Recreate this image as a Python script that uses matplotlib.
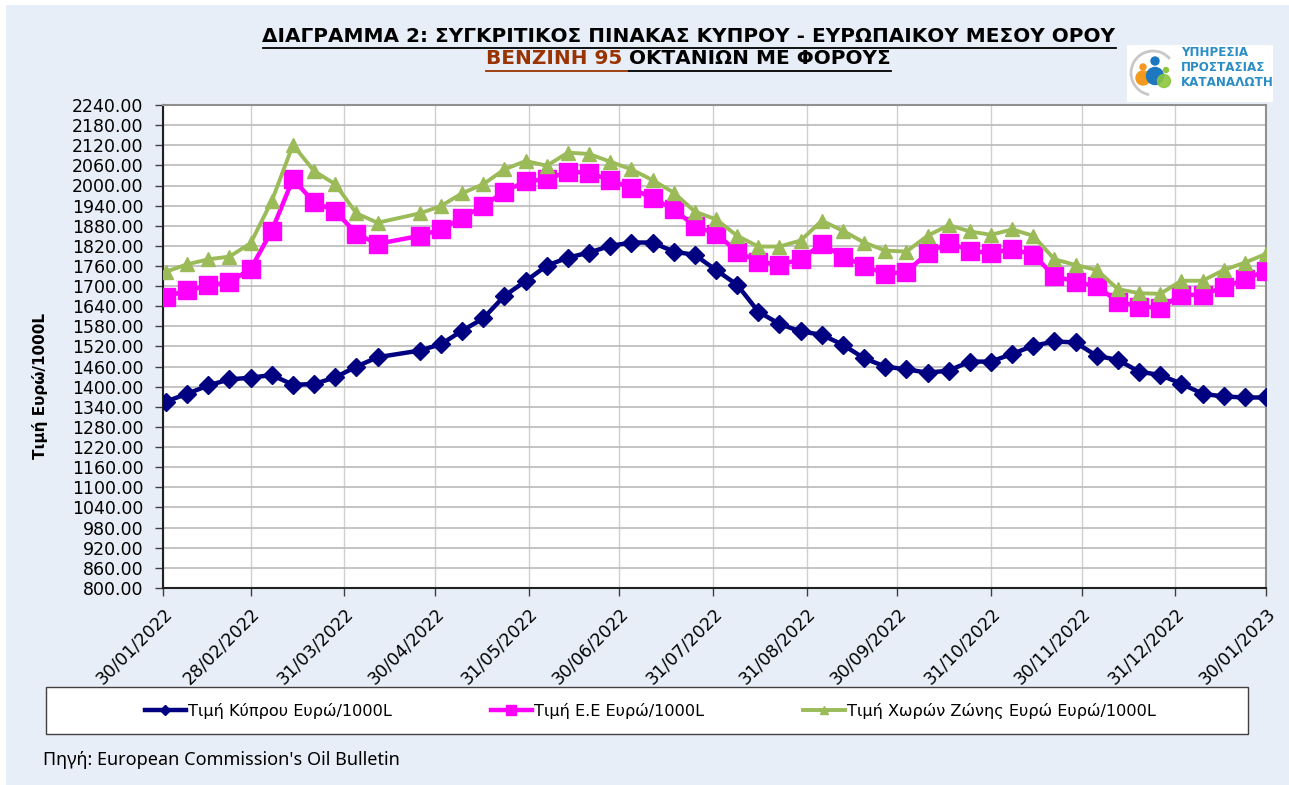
import matplotlib
matplotlib.use('Agg')
import matplotlib.pyplot as plt
from matplotlib.patches import Rectangle, Circle, Arc
from matplotlib.lines import Line2D
from datetime import datetime

# Εβδομαδιαίες τιμές (Oil Bulletin), Ευρώ/1000L
dates = ['31/01/2022', '07/02/2022', '14/02/2022', '21/02/2022', '28/02/2022',
         '07/03/2022', '14/03/2022', '21/03/2022', '28/03/2022', '04/04/2022',
         '11/04/2022', '25/04/2022', '02/05/2022', '09/05/2022', '16/05/2022',
         '23/05/2022', '30/05/2022', '06/06/2022', '13/06/2022', '20/06/2022',
         '27/06/2022', '04/07/2022', '11/07/2022', '18/07/2022', '25/07/2022',
         '01/08/2022', '08/08/2022', '15/08/2022', '22/08/2022', '29/08/2022',
         '05/09/2022', '12/09/2022', '19/09/2022', '26/09/2022', '03/10/2022',
         '10/10/2022', '17/10/2022', '24/10/2022', '31/10/2022', '07/11/2022',
         '14/11/2022', '21/11/2022', '28/11/2022', '05/12/2022', '12/12/2022',
         '19/12/2022', '26/12/2022', '02/01/2023', '09/01/2023', '16/01/2023',
         '23/01/2023', '30/01/2023']

cyprus = [1356, 1379, 1404, 1422, 1427, 1435, 1406, 1408, 1428, 1460,
          1488, 1508, 1527, 1567, 1604, 1671, 1715, 1761, 1785, 1800,
          1820, 1830, 1830, 1803, 1793, 1748, 1704, 1624, 1587, 1565,
          1555, 1525, 1485, 1460, 1452, 1442, 1448, 1475, 1475, 1498,
          1522, 1535, 1532, 1492, 1480, 1445, 1435, 1409, 1379, 1371,
          1368, 1368]

eu = [1669, 1687, 1702, 1712, 1751, 1865, 2019, 1950, 1924, 1856,
      1826, 1850, 1869, 1904, 1939, 1982, 2012, 2019, 2041, 2038,
      2016, 1992, 1962, 1929, 1879, 1856, 1803, 1773, 1763, 1780,
      1825, 1788, 1761, 1736, 1743, 1798, 1830, 1806, 1798, 1811,
      1793, 1730, 1713, 1699, 1654, 1639, 1636, 1674, 1674, 1697,
      1720, 1746]

euro_zone = [1743, 1765, 1780, 1788, 1828, 1954, 2121, 2043, 2004, 1917,
             1889, 1917, 1939, 1977, 2004, 2048, 2073, 2059, 2098, 2094,
             2071, 2048, 2016, 1979, 1922, 1899, 1850, 1818, 1818, 1836,
             1895, 1865, 1830, 1806, 1803, 1850, 1882, 1863, 1853, 1869,
             1850, 1780, 1763, 1748, 1691, 1679, 1677, 1716, 1716, 1748,
             1770, 1796]

tick_dates = ['30/01/2022', '28/02/2022', '31/03/2022', '30/04/2022',
              '31/05/2022', '30/06/2022', '31/07/2022', '31/08/2022',
              '30/09/2022', '31/10/2022', '30/11/2022', '31/12/2022',
              '30/01/2023']

series_labels = ['Τιμή Κύπρου Ευρώ/1000L', 'Τιμή Ε.Ε Ευρώ/1000L',
                 'Τιμή Χωρών Ζώνης Ευρώ Ευρώ/1000L']

title1 = 'ΔΙΑΓΡΑΜΜΑ 2: ΣΥΓΚΡΙΤΙΚΟΣ ΠΙΝΑΚΑΣ ΚΥΠΡΟΥ - ΕΥΡΩΠΑΙΚΟΥ ΜΕΣΟΥ ΟΡΟΥ'
title2a = 'ΒΕΝΖΙΝΗ 95 '
title2b = 'ΟΚΤΑΝΙΩΝ ΜΕ ΦΟΡΟΥΣ'


def to_dt(s):
    return datetime.strptime(s, '%d/%m/%Y')


x = [to_dt(d) for d in dates]
xt = [to_dt(d) for d in tick_dates]

W, H = 1289, 785
fig = plt.figure(figsize=(W / 100, H / 100), dpi=100)
fig.patch.set_facecolor('white')
renderer = fig.canvas.get_renderer()

# γαλάζιο φόντο
fig.add_artist(Rectangle((6 / W, 0), (W - 6) / W, (H - 5) / H, transform=fig.transFigure,
                         facecolor='#E8EEF7', edgecolor='none', zorder=-10))

ax = fig.add_axes([163 / W, 1 - 588 / H, (1266 - 163) / W, (588 - 105) / H])
ax.set_facecolor('white')

l1, = ax.plot(x, cyprus, color='#000080', lw=3.2, marker='D', ms=9, zorder=3)
l2, = ax.plot(x, eu, color='#FF00FF', lw=3.2, marker='s', ms=12.5, zorder=3)
l3, = ax.plot(x, euro_zone, color='#9BBB59', lw=2.8, marker='^', ms=10, zorder=3)

ax.set_xlim(xt[0], xt[-1])
ax.set_ylim(800, 2240)
yt = list(range(800, 2241, 60))
ax.set_yticks(yt)
ax.set_yticklabels(['%.2f' % v for v in yt], fontsize=12.5)
ax.set_xticks(xt)
ax.set_xticklabels(tick_dates, rotation=45, ha='right', rotation_mode='anchor', fontsize=12.5)
ax.tick_params(axis='both', direction='out', length=6, width=1, color='#404040')
ax.tick_params(axis='y', pad=8)
ax.tick_params(axis='x', pad=6)

ax.yaxis.grid(True, color='#BFBFBF', lw=1.3)
ax.xaxis.grid(True, color='#D0D0D0', lw=1.0)
ax.set_axisbelow(True)
for s in ['left', 'bottom']:
    ax.spines[s].set_color('#202020')
    ax.spines[s].set_linewidth(1.5)
for s in ['top', 'right']:
    ax.spines[s].set_color('#909090')
    ax.spines[s].set_linewidth(1.5)

fig.text(40 / W, 1 - 386 / H, 'Τιμή Ευρώ/1000L', rotation=90, fontsize=11,
         fontweight='bold', ha='center', va='center')

# τίτλοι με υπογράμμιση
def fit_size(txt, target_px):
    t = fig.text(0, 0, txt, fontsize=10, fontweight='bold')
    w = t.get_window_extent(renderer).width
    t.remove()
    return 10 * target_px / w


fs = fit_size(title1, 855)
t1 = fig.text(689 / W, 1 - 36 / H, title1, fontsize=fs, fontweight='bold',
              ha='center', va='center')
bb = t1.get_window_extent(renderer)
fig.add_artist(Line2D([bb.x0 / W, bb.x1 / W], [(bb.y0 - 2) / H] * 2,
                      transform=fig.transFigure, color='black', lw=1.3))

tmp = fig.text(0, 0, title2a + title2b, fontsize=fs, fontweight='bold')
total = tmp.get_window_extent(renderer).width
tmp.remove()
x0 = 688.5 - total / 2
t2a = fig.text(x0 / W, 1 - 59 / H, title2a, fontsize=fs, fontweight='bold',
               color='#993300', ha='left', va='center')
t2b = fig.text((x0 + total) / W, 1 - 59 / H, title2b, fontsize=fs, fontweight='bold',
               color='black', ha='right', va='center')
bb2 = t2b.get_window_extent(renderer)
uy = (bb2.y0 - 2) / H
fig.add_artist(Line2D([x0 / W, bb2.x0 / W], [uy, uy], transform=fig.transFigure,
                      color='#993300', lw=1.3))
fig.add_artist(Line2D([bb2.x0 / W, bb2.x1 / W], [uy, uy], transform=fig.transFigure,
                      color='black', lw=1.3))

# υπόμνημα
fig.add_artist(Rectangle((46 / W, 1 - 734 / H), (1248 - 46) / W, (734 - 687) / H,
                         transform=fig.transFigure, facecolor='white',
                         edgecolor='#404040', lw=1.0, zorder=1))
leg = fig.legend([l1, l2, l3], series_labels, loc='center',
                 bbox_to_anchor=(650 / W, 1 - 711 / H), ncol=3, frameon=False,
                 fontsize=11.6, handlelength=2.6, handletextpad=0.12,
                 columnspacing=6.1, markerscale=0.6)
leg.set_zorder(2)

fig.text(43 / W, 1 - 760 / H, "Πηγή: European Commission's Oil Bulletin",
         fontsize=13, family='Noto Sans', ha='left', va='center')

# λογότυπο
lg = fig.add_axes([1127 / W, 1 - 102 / H, (1273 - 1127) / W, (102 - 45) / H])
lg.set_xlim(1127, 1273)
lg.set_ylim(102, 45)
lg.axis('off')
lg.add_patch(Rectangle((1127, 45), 146, 57, facecolor='white', edgecolor='none'))
lg.add_patch(Arc((1153, 73), 44, 44, theta1=100, theta2=320, color='#C8C8C8', lw=2))
lg.add_patch(Circle((1143, 78), 7, color='#F39A1E'))
lg.add_patch(Circle((1155, 76), 8.5, color='#1E78C0'))
lg.add_patch(Circle((1164, 81), 6.5, color='#8CC63F', alpha=0.9))
lg.add_patch(Circle((1155, 61), 4, color='#1E78C0'))
lg.add_patch(Circle((1143, 67), 3, color='#F39A1E'))
lg.add_patch(Circle((1166, 70), 2.5, color='#8CC63F'))
for i, word in enumerate(['ΥΠΗΡΕΣΙΑ', 'ΠΡΟΣΤΑΣΙΑΣ', 'ΚΑΤΑΝΑΛΩΤΗ']):
    lg.text(1181, 53 + i * 14.5, word, fontsize=8.6, color='#2A8DC5',
            fontweight='bold', ha='left', va='center')

fig.savefig('out.png', dpi=100)
